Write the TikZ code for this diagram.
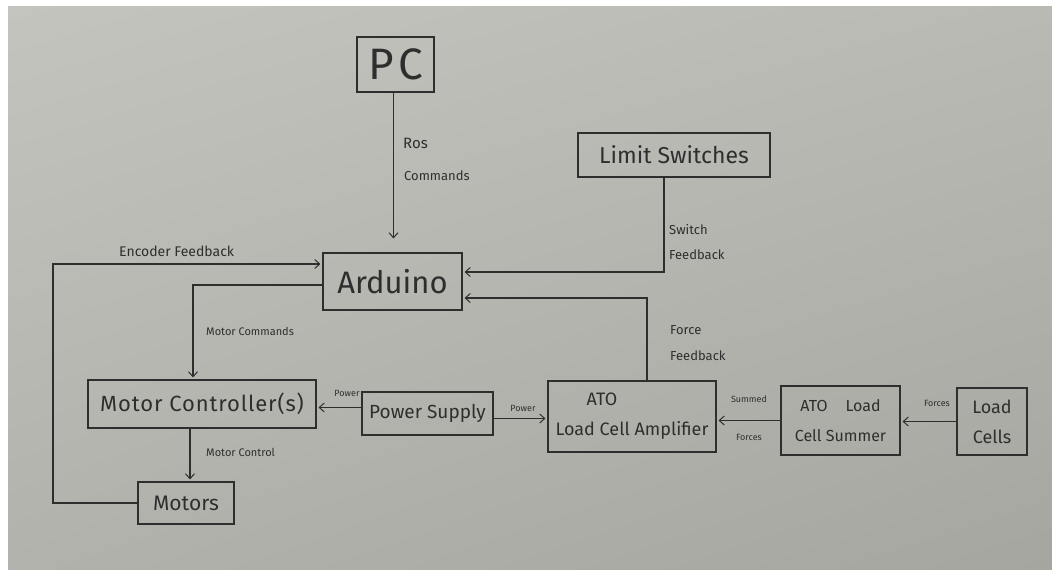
\documentclass[tikz,border=0pt]{standalone}
\usepackage{fontspec}
\setmainfont{Fira Sans}
\usetikzlibrary{arrows.meta,shadings}
\definecolor{ink}{RGB}{46,46,46}
\definecolor{paperA}{RGB}{196,196,191}
\definecolor{paperB}{RGB}{186,186,181}
\definecolor{paperC}{RGB}{178,178,173}
\definecolor{paperD}{RGB}{166,166,161}
\tikzset{
  box/.style={draw=ink, line width=1.1pt, inner sep=0pt, align=center, text=ink},
  arr/.style={draw=ink, line width=1.1pt, -{Straight Barb[length=5pt,width=9pt,line width=1pt]}, shorten >=2pt},
  lnk/.style={draw=ink, line width=1.1pt},
  lab/.style={text=ink, inner sep=0pt, anchor=west, font=\fontsize{13}{15}\selectfont},
  tiny/.style={text=ink, inner sep=0pt, font=\fontsize{9}{10}\selectfont}
}
\begin{document}
\begin{tikzpicture}[x=1pt,y=-1pt]
\useasboundingbox (0,0) rectangle (1052,570);
\fill[white] (0,0) rectangle (1052,570);
\shade[upper left=paperA, upper right=paperB, lower left=paperC, lower right=paperD] (8,6) rectangle (1052,570);

% boxes
\node[box, minimum width=77pt, minimum height=55pt, font=\fontsize{44}{46}\selectfont\addfontfeature{LetterSpace=10}] (PC) at (395.5,64.5) {PC};
\node[box, minimum width=192pt, minimum height=44pt, font=\fontsize{23}{25}\selectfont] (LS) at (674,155) {Limit Switches};
\node[box, minimum width=139pt, minimum height=57pt, font=\fontsize{31}{33}\selectfont] (AR) at (392.5,281.5) {Arduino};
\node[box, minimum width=228pt, minimum height=48pt, font=\fontsize{22}{24}\selectfont\addfontfeature{LetterSpace=4}] (MC) at (202,404) {Motor Controller(s)};
\node[box, minimum width=96pt, minimum height=42pt, font=\fontsize{21}{23}\selectfont] (MO) at (186,503) {Motors};
\node[box, minimum width=131pt, minimum height=43pt, font=\fontsize{19}{21}\selectfont] (PS) at (427.5,413.5) {Power Supply};
\node[box, minimum width=168pt, minimum height=71pt, font=\fontsize{18}{30}\selectfont] (AMP) at (632,416.5) {\hspace*{-60pt}ATO\\Load Cell Amplifier};
\node[box, minimum width=119pt, minimum height=69pt, font=\fontsize{16}{30}\selectfont] (SUM) at (840.5,420.5) {ATO\hspace{18pt}Load\\Cell Summer};
\node[box, minimum width=70pt, minimum height=67pt, font=\fontsize{18}{30}\selectfont] (LC) at (992,421.5) {Load\\Cells};

% connectors
\draw[arr] ([xshift=-2]PC.south) -- ([xshift=-2,yshift=12]PC.south |- AR.north);
\draw[arr] ([xshift=-10]LS.south) |- ([yshift=9.5]AR.east);
\draw[arr] ([xshift=15]AMP.north) |- ([yshift=-16.5]AR.east);
\draw[arr] (MO.west) -| (53,264) -- ([yshift=17.5]AR.west);
\draw[arr] ([yshift=-3.5]AR.west) -| ([xshift=-9]MC.north);
\draw[arr] ([xshift=-12]MC.south) -- ([xshift=-12]MC.south |- MO.north);
\draw[arr] ([yshift=6]PS.west) -- ([yshift=6]PS.west -| MC.east);
\draw[arr] ([yshift=-5]PS.east) -- ([yshift=-5]PS.east -| AMP.west);
\draw[arr] (SUM.west) -- (SUM.west -| AMP.east);
\draw[arr] (LC.west) -- (LC.west -| SUM.east);

% labels
\node[lab, font=\fontsize{15}{17}\selectfont] (l1) at (403,143) {Ros};
\node[lab] (l2) at (404,176) {Commands};
\node[lab] (l3) at (669,230) {Switch};
\node[lab] (l4) at (669,255) {Feedback};
\node[lab] (l5) at (670,330) {Force};
\node[lab] (l6) at (670,356) {Feedback};
\node[lab, font=\fontsize{14}{16}\selectfont] (l7) at (119,251) {Encoder Feedback};
\node[lab, font=\fontsize{11}{13}\selectfont] (l8) at (206,331) {Motor Commands};
\node[lab, font=\fontsize{11}{13}\selectfont] (l9) at (206,452) {Motor Control};
\node[tiny] (l10) at (347,393) {Power};
\node[tiny] (l11) at (523,408) {Power};
\node[tiny] (l12) at (749,399) {Summed};
\node[tiny] (l13) at (749,437) {Forces};
\node[tiny] (l14) at (937,403) {Forces};
\end{tikzpicture}
\end{document}
